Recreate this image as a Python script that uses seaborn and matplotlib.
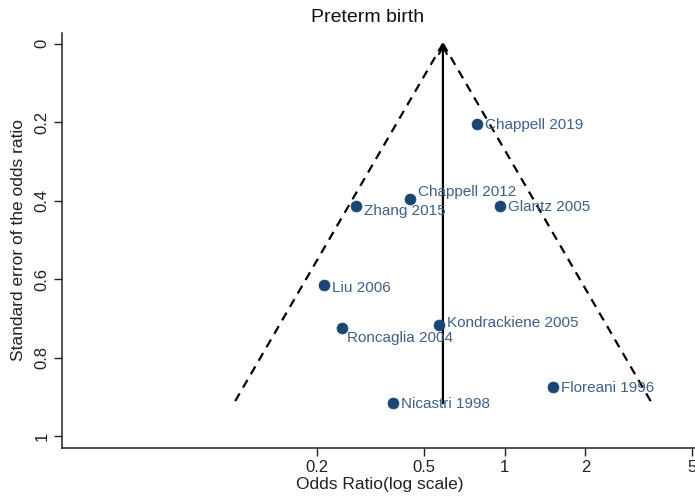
import numpy as np
import pandas as pd
import matplotlib
matplotlib.use("Agg")
import matplotlib.pyplot as plt
import seaborn as sns

# Study-level estimates
studies = ["Chappell 2019", "Chappell 2012", "Zhang 2015", "Glantz 2005", "Liu 2006",
           "Roncaglia 2004", "Kondrackiene 2005", "Floreani 1996", "Nicastri 1998"]
odds_ratio = [0.79, 0.443, 0.279, 0.958, 0.212, 0.247, 0.570, 1.515, 0.382]
std_err = [0.2045, 0.3956, 0.4134, 0.4126, 0.616, 0.725, 0.717, 0.874, 0.916]

# Pooled estimate
pooled_or = 0.588

x_ticks = [0.2, 0.5, 1, 2, 5]
x_tick_labels = ["0.2", "0.5", "1", "2", "5"]
y_ticks = [0, 0.2, 0.4, 0.6, 0.8, 1]
y_tick_labels = ["0", "0.2", "0.4", "0.6", "0.8", "1"]

# label offsets (pixels right, pixels down)
label_offsets = [(8, 1.5), (8, -6.5), (7.5, 5), (8, 1.5), (8, 2.3),
                 (5.5, 10), (7.5, -2.6), (7.5, 1), (8, 1)]

sns.set_style("ticks")
plt.rcParams["font.family"] = ["Liberation Sans", "DejaVu Sans"]

df = pd.DataFrame({"study": studies, "or": odds_ratio, "se": std_err})

W, H = 695, 501
fig = plt.figure(figsize=(W / 100, H / 100), dpi=100)
ax = fig.add_axes([62 / W, (H - 448) / H, (698 - 62) / W, (448 - 32.7) / H])

# funnel limits (95% pseudo-confidence)
se_max = max(std_err)
se_grid = np.array([0.0, se_max])
lower = np.exp(np.log(pooled_or) - 1.96 * se_grid)
upper = np.exp(np.log(pooled_or) + 1.96 * se_grid)
ax.plot(lower, se_grid, ls=(0, (4, 3)), color="black", lw=1.6)
ax.plot(upper, se_grid, ls=(0, (4, 3)), color="black", lw=1.6)
ax.annotate("", xy=(pooled_or, 0), xytext=(pooled_or, se_max),
            arrowprops=dict(arrowstyle="->", color="black", lw=1.6,
                            mutation_scale=14, shrinkA=0, shrinkB=0))

sns.scatterplot(data=df, x="or", y="se", ax=ax, color="#1b4572", s=62,
                edgecolor="#1b4572", linewidth=0.5, zorder=3)

for name, xv, yv, (dx, dy) in zip(studies, odds_ratio, std_err, label_offsets):
    ax.annotate(name, (xv, yv), xytext=(dx * 0.72, -dy * 0.72),
                textcoords="offset points", ha="left", va="center",
                fontsize=11, color="#3d608b", zorder=4)

ax.set_xscale("log")
ax.set_xlim(0.0223, 5.26)
ax.set_ylim(1.03, -0.028)
ax.set_xticks(x_ticks)
ax.set_xticklabels(x_tick_labels)
ax.xaxis.set_minor_locator(matplotlib.ticker.NullLocator())
ax.set_yticks(y_ticks)
ax.set_yticklabels(y_tick_labels, rotation=90, va="center")

ax.tick_params(axis="both", labelsize=12, length=6, width=1, color="#222222",
               labelcolor="#222222", pad=3)
for s in ["top", "right"]:
    ax.spines[s].set_visible(False)
for s in ["left", "bottom"]:
    ax.spines[s].set_linewidth(1.1)
    ax.spines[s].set_color("#222222")

ax.set_xlabel("Odds Ratio(log scale)", fontsize=12.5, color="#222222", labelpad=1)
ax.set_ylabel("Standard error of the odds ratio", fontsize=12.5, color="#222222", labelpad=6)

fig.text(368 / W, 1 - 17 / H, "Preterm birth", ha="center", va="center",
         fontsize=14, color="#111111")

fig.savefig("out.png", dpi=100, facecolor="white")
